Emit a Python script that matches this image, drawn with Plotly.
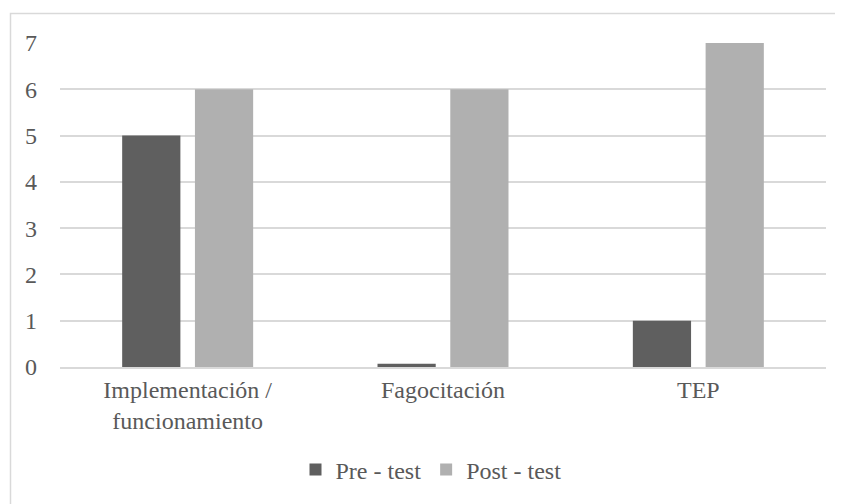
import plotly.graph_objects as go

categories = ["Implementación /<br>funcionamiento", "Fagocitación", "TEP"]
pre_test = [5, 0.07, 1]
post_test = [6, 6, 7]
series_names = ["Pre - test", "Post - test"]
y_ticks = [0, 1, 2, 3, 4, 5, 6, 7]

FONT = "Liberation Serif, Times New Roman, serif"
TXT = "#595959"
FS = 24

fig = go.Figure()
fig.add_trace(go.Bar(x=categories, y=pre_test, name=series_names[0],
                     marker=dict(color="#5f5f5f", line=dict(width=0))))
fig.add_trace(go.Bar(x=categories, y=post_test, name=series_names[1],
                     marker=dict(color="#b0b0b0", line=dict(width=0))))

# page has an 8px body margin; figure coords = screen coords - 8
OFF = 8
W, H = 843 - OFF, 504 - OFF
L, T = 60 - OFF, 43 - OFF
R = W - (826 - OFF)
B = H - (367 - OFF)
pw, ph = W - L - R, H - T - B

def px(x):
    return (x - OFF - L) / pw

def py(y):
    return (H - B - (y - OFF)) / ph

fig.update_layout(
    width=W, height=H,
    margin=dict(l=L, r=R, t=T, b=B, autoexpand=False),
    paper_bgcolor="white", plot_bgcolor="white",
    barmode="group", bargap=0.43, bargroupgap=0.2,
    font=dict(family=FONT, size=FS, color=TXT),
    showlegend=True,
    legend=dict(orientation="h", x=px(431), xanchor="center", y=py(470), yanchor="middle",
                font=dict(family=FONT, size=FS, color=TXT), itemwidth=30,
                traceorder="normal"),
    xaxis=dict(showgrid=False, showline=True, linecolor="#d9d9d9", linewidth=1.5,
               ticks="", tickfont=dict(family=FONT, size=FS, color=TXT)),
    yaxis=dict(range=[0, 7], tickvals=y_ticks, showgrid=True, gridcolor="#d9d9d9",
               gridwidth=1.5, zeroline=False, showline=False, ticks="",
               ticklabelstandoff=22, tickfont=dict(family=FONT, size=FS, color=TXT)),
    shapes=[dict(type="rect", xref="paper", yref="paper",
                 x0=px(10.5), x1=px(860), y0=py(520), y1=py(13.5),
                 line=dict(color="#d9d9d9", width=1.5), layer="below")],
)

fig.write_html("out.html")
